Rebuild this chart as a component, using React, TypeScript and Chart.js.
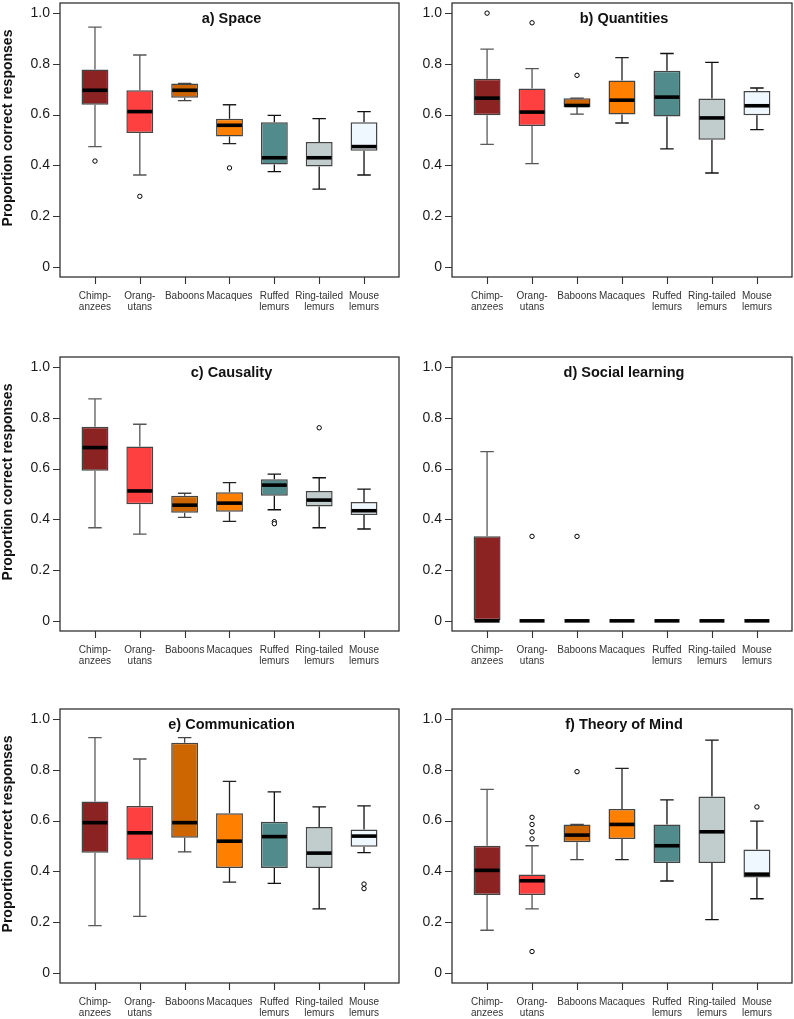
import React, { useEffect, useRef } from "react";
import { Chart, registerables } from "chart.js";

Chart.register(...registerables);

const FONT = '"Liberation Sans", Arial, Helvetica, sans-serif';

// Categories (x-axis tick labels, two lines where the original wraps)
const categories: string[][] = [
  ["Chimp-", "anzees"],
  ["Orang-", "utans"],
  ["Baboons"],
  ["Macaques"],
  ["Ruffed", "lemurs"],
  ["Ring-tailed", "lemurs"],
  ["Mouse", "lemurs"],
];
const yTickValues = [0, 0.2, 0.4, 0.6, 0.8, 1.0];

const boxColors = ["#8B2323", "#FF4040", "#CD6600", "#FF7F00", "#528B8B", "#C1CDCD", "#F0F8FF"];
const whiskerColors = ["#5a5a5a", "#555555", "#444444", "#222222", "#111111", "#111111", "#111111"];

// a) Space
const spaceMin = [0.474, 0.362, 0.655, 0.486, 0.375, 0.306, 0.362];
const spaceQ1 = [0.639, 0.528, 0.667, 0.514, 0.403, 0.396, 0.458];
const spaceMed = [0.696, 0.612, 0.696, 0.558, 0.43, 0.43, 0.474];
const spaceQ3 = [0.778, 0.696, 0.723, 0.584, 0.57, 0.492, 0.57];
const spaceMax = [0.945, 0.835, 0.723, 0.639, 0.597, 0.584, 0.612];
const spaceOutX = [1, 2, 4];
const spaceOutY = [0.417, 0.278, 0.39];

// b) Quantities
const quantMin = [0.483, 0.407, 0.602, 0.567, 0.465, 0.37, 0.541];
const quantQ1 = [0.598, 0.555, 0.63, 0.601, 0.593, 0.501, 0.598];
const quantMed = [0.665, 0.61, 0.636, 0.657, 0.669, 0.587, 0.635];
const quantQ3 = [0.741, 0.703, 0.665, 0.735, 0.773, 0.664, 0.693];
const quantMax = [0.858, 0.781, 0.665, 0.825, 0.841, 0.806, 0.705];
const quantOutX = [1, 2, 3];
const quantOutY = [1.0, 0.962, 0.755];

// c) Causality
const causMin = [0.367, 0.342, 0.408, 0.392, 0.438, 0.367, 0.362];
const causQ1 = [0.592, 0.46, 0.426, 0.43, 0.493, 0.451, 0.417];
const causMed = [0.683, 0.512, 0.456, 0.464, 0.535, 0.476, 0.434];
const causQ3 = [0.765, 0.687, 0.493, 0.507, 0.558, 0.512, 0.468];
const causMax = [0.875, 0.775, 0.503, 0.545, 0.578, 0.564, 0.519];
const causOutX = [5, 5, 6];
const causOutY = [0.391, 0.383, 0.761];

// d) Social learning
const socMin = [0, 0, 0, 0, 0, 0, 0];
const socQ1 = [0, 0, 0, 0, 0, 0, 0];
const socMed = [0, 0, 0, 0, 0, 0, 0];
const socQ3 = [0.333, 0, 0, 0, 0, 0, 0];
const socMax = [0.667, 0, 0, 0, 0, 0, 0];
const socOutX = [2, 3];
const socOutY = [0.333, 0.333];

// e) Communication
const commMin = [0.186, 0.223, 0.477, 0.358, 0.353, 0.252, 0.474];
const commQ1 = [0.473, 0.446, 0.533, 0.413, 0.413, 0.413, 0.497];
const commMed = [0.592, 0.552, 0.592, 0.519, 0.537, 0.472, 0.539];
const commQ3 = [0.675, 0.658, 0.907, 0.629, 0.596, 0.575, 0.565];
const commMax = [0.927, 0.843, 0.927, 0.755, 0.713, 0.654, 0.658];
const commOutX = [7, 7];
const commOutY = [0.35, 0.332];

// f) Theory of Mind
const tomMin = [0.168, 0.252, 0.446, 0.446, 0.362, 0.21, 0.292];
const tomQ1 = [0.307, 0.307, 0.515, 0.528, 0.433, 0.433, 0.376];
const tomMed = [0.404, 0.363, 0.543, 0.585, 0.501, 0.556, 0.389];
const tomQ3 = [0.501, 0.388, 0.585, 0.646, 0.585, 0.695, 0.486];
const tomMax = [0.723, 0.501, 0.585, 0.806, 0.682, 0.917, 0.598];
const tomOutX = [2, 2, 2, 2, 2, 3, 7];
const tomOutY = [0.613, 0.585, 0.556, 0.528, 0.084, 0.793, 0.654];

type PanelData = {
  title: string;
  min: number[];
  q1: number[];
  med: number[];
  q3: number[];
  max: number[];
  outX: number[];
  outY: number[];
};

const panels: PanelData[] = [
  { title: "a) Space", min: spaceMin, q1: spaceQ1, med: spaceMed, q3: spaceQ3, max: spaceMax, outX: spaceOutX, outY: spaceOutY },
  { title: "b) Quantities", min: quantMin, q1: quantQ1, med: quantMed, q3: quantQ3, max: quantMax, outX: quantOutX, outY: quantOutY },
  { title: "c) Causality", min: causMin, q1: causQ1, med: causMed, q3: causQ3, max: causMax, outX: causOutX, outY: causOutY },
  { title: "d) Social learning", min: socMin, q1: socQ1, med: socMed, q3: socQ3, max: socMax, outX: socOutX, outY: socOutY },
  { title: "e) Communication", min: commMin, q1: commQ1, med: commMed, q3: commQ3, max: commMax, outX: commOutX, outY: commOutY },
  { title: "f) Theory of Mind", min: tomMin, q1: tomQ1, med: tomMed, q3: tomQ3, max: tomMax, outX: tomOutX, outY: tomOutY },
];

const Y_TITLE = "Proportion correct responses";
const TICK_LEN = 7;

function makeBoxPlugin(p: PanelData, showYTitle: boolean) {
  return {
    id: "boxparts",
    beforeDatasetsDraw(chart: any) {
      const { ctx } = chart;
      const xs = chart.scales.x;
      const ys = chart.scales.y;
      const meta = chart.getDatasetMeta(0);
      ctx.save();
      ctx.lineCap = "butt";
      p.min.forEach((mn: number, i: number) => {
        const cx = xs.getPixelForValue(i + 1);
        const w = meta.data[i] ? meta.data[i].width : 26;
        const capHalf = w / 4;
        ctx.strokeStyle = whiskerColors[i];
        ctx.lineWidth = 1.3;
        const yq1 = ys.getPixelForValue(p.q1[i]);
        const yq3 = ys.getPixelForValue(p.q3[i]);
        const ymin = ys.getPixelForValue(mn);
        const ymax = ys.getPixelForValue(p.max[i]);
        ctx.beginPath();
        if (p.max[i] > p.q3[i]) {
          ctx.moveTo(cx, yq3);
          ctx.lineTo(cx, ymax);
        }
        if (mn < p.q1[i]) {
          ctx.moveTo(cx, yq1);
          ctx.lineTo(cx, ymin);
        }
        ctx.moveTo(cx - capHalf, ymax);
        ctx.lineTo(cx + capHalf, ymax);
        ctx.moveTo(cx - capHalf, ymin);
        ctx.lineTo(cx + capHalf, ymin);
        ctx.stroke();
      });
      ctx.restore();
    },
    afterDatasetsDraw(chart: any) {
      const { ctx, chartArea } = chart;
      const xs = chart.scales.x;
      const ys = chart.scales.y;
      const meta = chart.getDatasetMeta(0);
      ctx.save();
      // medians
      p.med.forEach((m: number, i: number) => {
        const cx = xs.getPixelForValue(i + 1);
        const w = meta.data[i] ? meta.data[i].width : 26;
        const y = ys.getPixelForValue(m);
        ctx.strokeStyle = "#000";
        ctx.lineWidth = 3.6;
        ctx.beginPath();
        ctx.moveTo(cx - w / 2 + 1, y);
        ctx.lineTo(cx + w / 2 - 1, y);
        ctx.stroke();
      });
      // frame
      ctx.strokeStyle = "#333";
      ctx.lineWidth = 1.3;
      ctx.strokeRect(chartArea.left, chartArea.top, chartArea.right - chartArea.left, chartArea.bottom - chartArea.top);
      // axis tick marks (outside the frame), placed through the scales
      ctx.lineWidth = 1.1;
      ctx.beginPath();
      xs.ticks.forEach((t: any) => {
        const px = Math.round(xs.getPixelForValue(t.value)) + 0.5;
        ctx.moveTo(px, chartArea.bottom);
        ctx.lineTo(px, chartArea.bottom + TICK_LEN);
      });
      ys.ticks.forEach((t: any) => {
        const py = Math.round(ys.getPixelForValue(t.value)) + 0.5;
        ctx.moveTo(chartArea.left - TICK_LEN, py);
        ctx.lineTo(chartArea.left, py);
      });
      ctx.stroke();
      // panel title
      ctx.fillStyle = "#111";
      ctx.font = `bold 14.5px ${FONT}`;
      ctx.textAlign = "center";
      ctx.textBaseline = "middle";
      ctx.fillText(p.title, (chartArea.left + chartArea.right) / 2 + 2, chartArea.top + 16);
      // y-axis title
      if (showYTitle) {
        ctx.font = `bold 14px ${FONT}`;
        ctx.translate(8.5, (chartArea.top + chartArea.bottom) / 2 - 12);
        ctx.rotate(-Math.PI / 2);
        ctx.fillText(Y_TITLE, 0, 0);
      }
      ctx.restore();
    },
  };
}

function Panel({ p, left, top, width, yWidth, padRight, showYTitle }: any) {
  const ref = useRef<HTMLCanvasElement>(null);
  useEffect(() => {
    if (!ref.current) return;
    const chart = new Chart(ref.current, {
      type: "bar",
      data: {
        datasets: [
          {
            type: "bar",
            data: p.q1.map((v: number, i: number) => ({ x: i + 1, y: [v, p.q3[i]] })),
            backgroundColor: boxColors,
            borderColor: "#444",
            borderWidth: 1.5,
            borderSkipped: false,
            barPercentage: 0.6,
            categoryPercentage: 1,
          } as any,
          {
            type: "scatter",
            data: p.outX.map((x: number, i: number) => ({ x, y: p.outY[i] })),
            pointStyle: "circle",
            pointRadius: 2.2,
            pointBackgroundColor: "#fff",
            pointBorderColor: "#000",
            pointBorderWidth: 1,
          } as any,
        ],
      },
      options: {
        animation: false,
        responsive: false,
        maintainAspectRatio: false,
        layout: { autoPadding: false, padding: { top: 3, right: padRight, bottom: 0, left: 0 } },
        plugins: {
          legend: { display: false },
          tooltip: { enabled: false },
          title: { display: false },
        },
        scales: {
          x: {
            type: "linear",
            min: 0.22,
            max: 7.78,
            offset: false,
            afterBuildTicks: (s: any) => {
              s.ticks = categories.map((_, i) => ({ value: i + 1 }));
            },
            afterFit: (s: any) => {
              s.height = 53;
              s.paddingLeft = 0;
              s.paddingRight = 0;
            },
            ticks: {
              autoSkip: false,
              maxRotation: 0,
              minRotation: 0,
              padding: 6,
              color: "#333",
              font: { family: FONT, size: 10, lineHeight: 1.15 },
              callback: (_v: any, idx: number) => categories[idx],
            },
            grid: {
              display: true,
              offset: false,
              drawOnChartArea: false,
              drawTicks: true,
              tickLength: TICK_LEN,
              color: "rgba(0,0,0,0)",
            },
            border: { display: false },
          },
          y: {
            type: "linear",
            min: -0.04,
            max: 1.04,
            afterBuildTicks: (s: any) => {
              s.ticks = yTickValues.map((v) => ({ value: v }));
            },
            afterFit: (s: any) => {
              s.width = yWidth;
              s.paddingTop = 0;
              s.paddingBottom = 0;
            },
            ticks: {
              padding: 3,
              color: "#1a1a1a",
              font: { family: FONT, size: 14 },
              callback: (v: any) => (Number(v) === 0 ? "0" : Number(v).toFixed(1)),
            },
            grid: {
              display: true,
              offset: false,
              drawOnChartArea: false,
              drawTicks: true,
              tickLength: TICK_LEN,
              color: "rgba(0,0,0,0)",
            },
            border: { display: false },
          },
        },
      } as any,
      plugins: [makeBoxPlugin(p, showYTitle)],
    });
    return () => chart.destroy();
  }, []);
  return (
    <canvas
      ref={ref}
      width={width}
      height={330}
      style={{ position: "absolute", left, top, width, height: 330 }}
    />
  );
}

export default function App() {
  const rowTops = [0, 354, 706];
  return (
    <div style={{ position: "absolute", left: 0, top: 0, width: 794, height: 1019, background: "#fff" }}>
      {panels.map((p, k) => {
        const col = k % 2;
        const row = Math.floor(k / 2);
        return (
          <Panel
            key={k}
            p={p}
            left={col === 0 ? 0 : 400}
            top={rowTops[row]}
            width={col === 0 ? 400 : 394}
            yWidth={col === 0 ? 60 : 52}
            padRight={col === 0 ? 1 : 2}
            showYTitle={col === 0}
          />
        );
      })}
    </div>
  );
}
